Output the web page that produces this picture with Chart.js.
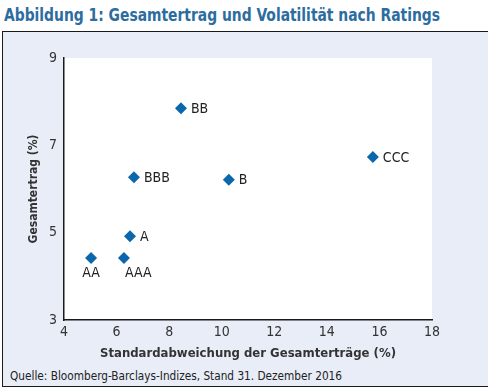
<!DOCTYPE html>
<html>
<head>
<meta charset="utf-8">
<script src="https://cdn.jsdelivr.net/npm/chart.js@4"></script>
<style>
body { margin:0; width:488px; height:388px; overflow:hidden; background:#fff; position:relative; }
#title { position:absolute; left:4px; top:5px; font-family:"DejaVu Sans Condensed","DejaVu Sans",sans-serif; font-weight:bold; font-size:17px; color:#2c6c9f; white-space:nowrap; transform-origin:0 0; }
#box { position:absolute; left:2px; top:31px; width:500px; height:354px; border:1.5px solid #1a1a1a; background:#e8edf8; }
#src { position:absolute; left:10px; top:368px; font-family:"DejaVu Sans Condensed","DejaVu Sans",sans-serif; font-size:13px; color:#222; white-space:nowrap; transform-origin:0 0; }
#chart { position:absolute; left:0; top:0; }
</style>
</head>
<body>
<div id="title">Abbildung 1: Gesamtertrag und Volatilität nach Ratings</div>
<div id="box"></div>
<div id="src">Quelle: Bloomberg-Barclays-Indizes, Stand 31. Dezember 2016</div>
<canvas id="chart" width="488" height="388"></canvas>
<script>
// Ratings, Volatilität (x) und Gesamtertrag (y)
var ratings = ["AA", "AAA", "A", "BBB", "BB", "B", "CCC"];
var volatility = [5.03, 6.28, 6.51, 6.66, 8.45, 10.27, 15.75];
var totalReturn = [4.42, 4.42, 4.92, 6.27, 7.85, 6.21, 6.73];

var font = "'DejaVu Sans Condensed','DejaVu Sans',sans-serif";

// Texte auf die Breite der Vorlage bringen
function fitWidth(id, w) {
	let el = document.getElementById(id);
	let s = w / el.getBoundingClientRect().width;
	el.style.transform = "scaleX(" + s + ")";
}
fitWidth("title", 436);
fitWidth("src", 332);

var points = [];
for (let i in ratings) {
	points.push({x: volatility[i], y: totalReturn[i]});
}

// weisser Plotbereich
var areaBg = {
	id: "areaBg",
	beforeDraw(chart) {
		let a = chart.chartArea;
		chart.ctx.save();
		chart.ctx.fillStyle = "#fff";
		chart.ctx.fillRect(a.left, a.top, a.right - a.left, a.bottom - a.top);
		chart.ctx.restore();
	}
};

// Beschriftung der Punkte
var pointLabels = {
	id: "pointLabels",
	afterDatasetsDraw(chart) {
		let ctx = chart.ctx;
		let meta = chart.getDatasetMeta(0);
		ctx.save();
		ctx.font = "14px " + font;
		ctx.fillStyle = "#222";
		ctx.textBaseline = "middle";
		for (let i in meta.data) {
			let p = meta.data[i];
			let name = ratings[i];
			if (name == "AA") {
				ctx.textAlign = "center";
				ctx.fillText(name, p.x, p.y + 15);
			} else if (name == "AAA") {
				ctx.textAlign = "left";
				ctx.fillText(name, p.x + 1, p.y + 15);
			} else {
				ctx.textAlign = "left";
				ctx.fillText(name, p.x + 10, p.y + 1);
			}
		}
		ctx.restore();
	}
};

var config = {
	type: "scatter",
	data: {
		datasets: [{
			data: points,
			pointStyle: "rectRot",
			pointRadius: 6,
			pointHoverRadius: 6,
			backgroundColor: "#0b67ab",
			borderColor: "#0b67ab",
			borderWidth: 0
		}]
	},
	options: {
		responsive: false,
		animation: false,
		layout: {
			padding: {left: 0, top: 58, right: 56, bottom: 0}
		},
		plugins: {
			legend: false,
			tooltip: {enabled: false}
		},
		scales: {
			x: {
				type: "linear",
				min: 4,
				max: 18,
				ticks: {stepSize: 2, padding: 4, color: "#333", font: {family: font, size: 14}},
				grid: {display: false, drawTicks: false},
				border: {display: true, color: "#1a1a1a", width: 1.5},
				title: {display: true, text: "Standardabweichung der Gesamterträge (%)", color: "#333",
					font: {family: font, size: 13, weight: "bold"}, padding: {top: 0, bottom: 27}},
				afterFit(scale) { scale.height = 68; }
			},
			y: {
				min: 3,
				max: 9,
				ticks: {stepSize: 2, padding: 7, color: "#333", font: {family: font, size: 14}},
				grid: {display: false, drawTicks: false},
				border: {display: true, color: "#1a1a1a", width: 1.5},
				title: {display: true, text: "Gesamtertrag (%)", color: "#333",
					font: {family: font, size: 12, weight: "bold"}, padding: {top: 27, bottom: 0}},
				afterFit(scale) { scale.width = 64; }
			}
		}
	},
	plugins: [areaBg, pointLabels]
};

var chart = new Chart("chart", config);
</script>
</body>
</html>
